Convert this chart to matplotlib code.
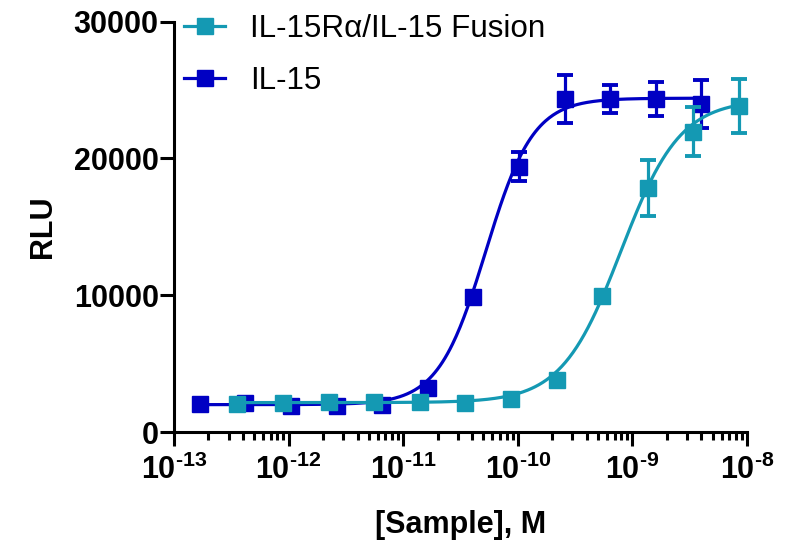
import numpy as np
import matplotlib.pyplot as plt
from matplotlib.lines import Line2D
from matplotlib.ticker import LogLocator, NullFormatter, FixedLocator, FixedFormatter

plt.rcParams['font.family'] = ['Liberation Sans', 'DejaVu Sans']
plt.rcParams['mathtext.fontset'] = 'custom'
plt.rcParams['mathtext.rm'] = 'Liberation Sans:bold'
plt.rcParams['mathtext.bf'] = 'Liberation Sans:bold'
plt.rcParams['mathtext.it'] = 'Liberation Sans:bold'

nan = np.nan

# IL-15
il15_conc = [1.68e-13, 4.19e-13, 1.05e-12, 2.62e-12, 6.55e-12, 1.64e-11,
             4.10e-11, 1.02e-10, 2.56e-10, 6.40e-10, 1.60e-9, 4.00e-9]
il15_rlu = [2050, 2100, 1920, 1920, 1970, 3190, 9890, 19390, 24320, 24320, 24340, 23960]
il15_err = [nan, nan, nan, nan, nan, nan, nan, 1070, 1750, 1020, 1220, 1760]

# IL-15Ra/IL-15 Fusion
fus_conc = [3.57e-13, 8.90e-13, 2.23e-12, 5.57e-12, 1.39e-11, 3.48e-11,
            8.70e-11, 2.18e-10, 5.44e-10, 1.36e-9, 3.40e-9, 8.50e-9]
fus_rlu = [2050, 2100, 2190, 2170, 2170, 2140, 2390, 3830, 9940, 17810, 21950, 23830]
fus_err = [nan, nan, nan, nan, nan, nan, nan, nan, nan, 2050, 1780, 1970]

# parametry dopasowania 4PL: dol, gora, logEC50, Hill
il15_fit = (2000, 24400, -10.28, 2.1)
fus_fit = (2150, 24300, -9.10, 1.68)

x_ticks = [1e-13, 1e-12, 1e-11, 1e-10, 1e-9, 1e-8]
x_labels = [r'$10^{\text{-}13}$', r'$10^{\text{-}12}$', r'$10^{\text{-}11}$',
            r'$10^{\text{-}10}$', r'$10^{\text{-}9}$', r'$10^{\text{-}8}$']
y_ticks = [0, 10000, 20000, 30000]

blue = '#0000C3'
teal = '#1499B3'


def curve(conc, p):
    bottom, top, logec, hill = p
    xs = np.logspace(np.log10(conc[0]), np.log10(conc[-1]), 400)
    ys = bottom + (top - bottom) / (1 + 10 ** ((logec - np.log10(xs)) * hill))
    return xs, ys


fig = plt.figure(figsize=(7.85, 5.44), dpi=100)
ax = fig.add_axes([174 / 785, 1 - 432 / 544, 573 / 785, 410.4 / 544])

for conc, rlu, err, fit, col in [(il15_conc, il15_rlu, il15_err, il15_fit, blue),
                                  (fus_conc, fus_rlu, fus_err, fus_fit, teal)]:
    xs, ys = curve(conc, fit)
    ax.plot(xs, ys, color=col, lw=2.3, clip_on=False)
    ax.errorbar(conc, rlu, yerr=err, fmt='none', ecolor=col, elinewidth=2.3,
                capsize=6, capthick=2.8, clip_on=False)
    ax.plot(conc, rlu, 's', color=col, ms=11.5, mec=col, clip_on=False)

ax.set_xscale('log')
ax.set_xlim(1e-13, 1e-8)
ax.set_ylim(0, 30000)
ax.xaxis.set_major_locator(FixedLocator(x_ticks))
ax.xaxis.set_major_formatter(FixedFormatter(x_labels))
ax.xaxis.set_minor_locator(LogLocator(base=10, subs=np.arange(2, 10)))
ax.xaxis.set_minor_formatter(NullFormatter())
ax.set_yticks(y_ticks)
ax.set_yticklabels([str(v) for v in y_ticks])

for s in ['top', 'right']:
    ax.spines[s].set_visible(False)
for s in ['left', 'bottom']:
    ax.spines[s].set_linewidth(2.2)

ax.tick_params(axis='both', which='major', length=10, width=2.2, labelsize=22)
ax.tick_params(axis='x', which='minor', length=5.5, width=2.2)
ax.tick_params(axis='y', pad=1)
ax.tick_params(axis='x', pad=6)
for lab in ax.get_yticklabels():
    lab.set_fontweight('bold')

ax.set_ylabel('RLU', fontsize=22, fontweight='bold', labelpad=11.5)
ax.set_xlabel('[Sample], M', fontsize=22, fontweight='bold', labelpad=17.5)

handles = [Line2D([], [], color=teal, lw=2.3, marker='s', ms=11.5),
           Line2D([], [], color=blue, lw=2.3, marker='s', ms=11.5)]
ax.legend(handles, ['IL-15R\u03b1/IL-15 Fusion', 'IL-15'], loc='upper left',
          bbox_to_anchor=(0.018, 1.018), frameon=False, fontsize=22.6,
          handlelength=1.3, handletextpad=0.8, labelspacing=0.7,
          borderpad=0, borderaxespad=0)

plt.savefig('out.png', dpi=100)
